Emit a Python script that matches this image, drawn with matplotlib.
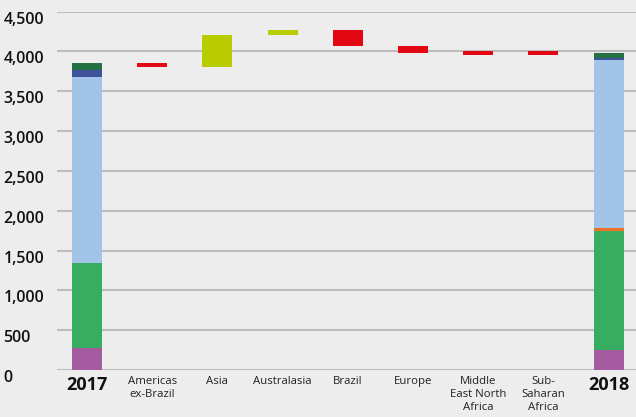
import numpy as np
import matplotlib.pyplot as plt
import matplotlib.transforms as mtransforms

categories = ["2017", "Americas\nex-Brazil", "Asia", "Australasia", "Brazil",
              "Europe", "Middle\nEast North\nAfrica", "Sub-\nSaharan\nAfrica", "2018"]

# stacked totals (2017, 2018), bottom to top
stack_colors = ["#a55ba0", "#37ad62", "#f07024", "#a2c4e9", "#3f529c", "#247243"]
stack_2017 = [276, 1068, 0, 2336, 88, 92]
stack_2018 = [251, 1491, 42, 2110, 25, 62]

# floating changes: start, end
flt_start = [3860, 3810, 4208, 4270, 4069, 4000, 4000]
flt_end = [3810, 4208, 4270, 4069, 3981, 3950, 3950]
up_color = "#b9cc00"
down_color = "#e30613"

bg = "#ededed"
fig = plt.figure(figsize=(6.36, 4.17), dpi=100, facecolor=bg)
ax = fig.add_axes([0.0896, 0.1127, 0.9104, 0.8593], facecolor=bg)

w = 0.46
x = np.arange(len(categories))
for xi, stack in [(0, stack_2017), (8, stack_2018)]:
    bottom = 0
    for v, c in zip(stack, stack_colors):
        ax.bar(xi, v, bottom=bottom, width=w, color=c, linewidth=0, zorder=3)
        bottom += v

for i, (s, e) in enumerate(zip(flt_start, flt_end)):
    c = up_color if e > s else down_color
    ax.bar(i + 1, abs(e - s), bottom=min(s, e), width=w, color=c, linewidth=0, zorder=3)

ax.set_xlim(-0.46, 8.42)
ax.set_ylim(0, 4500)
ax.set_yticks(np.arange(0, 4501, 500))
ax.set_yticklabels([f"{v:,}" for v in range(0, 4501, 500)])
ax.grid(axis="y", color="#bdbdbd", linewidth=1.5, zorder=0)
for sp in ax.spines.values():
    sp.set_visible(False)
ax.tick_params(axis="y", length=0, pad=38.5, labelsize=11.5, labelcolor="#111111")
for lbl in ax.get_yticklabels():
    lbl.set_horizontalalignment("left")
    lbl.set_fontweight("semibold")
    lbl.set_fontfamily("Open Sans")
    lbl.set_transform(lbl.get_transform() + mtransforms.ScaledTranslation(0, -6 / 100, fig.dpi_scale_trans))

ax.set_xticks(x)
ax.set_xticklabels(categories)
ax.tick_params(axis="x", length=0, pad=4, labelsize=8.2, labelcolor="#222222")
for i, lbl in enumerate(ax.get_xticklabels()):
    lbl.set_fontfamily("Open Sans")
    lbl.set_linespacing(1.3)
    if i in (0, 8):
        lbl.set_fontsize(13)
        lbl.set_fontweight("bold")
        lbl.set_color("#111111")

fig.savefig("out.png", dpi=100, facecolor=bg)
